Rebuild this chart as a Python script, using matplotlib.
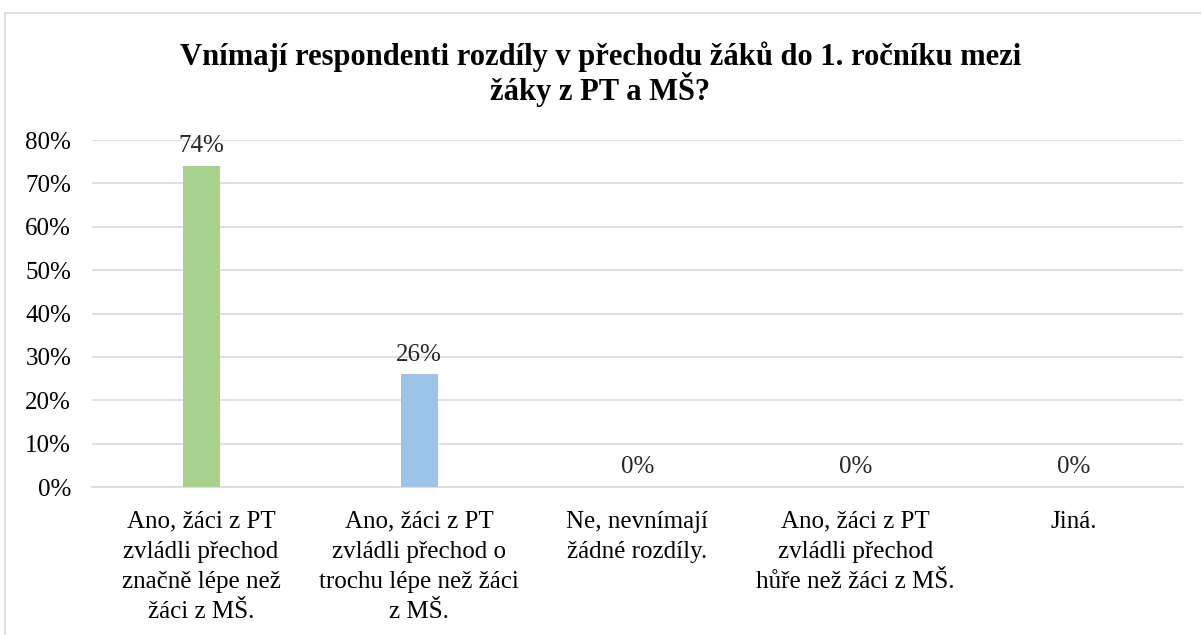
import matplotlib
matplotlib.use("Agg")
import matplotlib.pyplot as plt
from matplotlib.patches import Rectangle
from matplotlib.ticker import MultipleLocator, FuncFormatter

categories = [
    "Ano, žáci z PT\nzvládli přechod\nznačně lépe než\nžáci z MŠ.",
    "Ano, žáci z PT\nzvládli přechod o\ntrochu lépe než žáci\nz MŠ.",
    "Ne, nevnímají\nžádné rozdíly.",
    "Ano, žáci z PT\nzvládli přechod\nhůře než žáci z MŠ.",
    "Jiná.",
]
values = [74, 26, 0, 0, 0]
colors = ["#a9d18e", "#9dc3e6", "#f4b183", "#ffd966", "#c9c9c9"]
title = "Vnímají respondenti rozdíly v přechodu žáků do 1. ročníku mezi\nžáky z PT a MŠ?"

plt.rcParams['font.family'] = ['Liberation Serif', 'DejaVu Serif']

W, H = 1201, 635
fig = plt.figure(figsize=(W / 100, H / 100), dpi=100)
fig.patch.set_facecolor("white")

# chart frame
fig.patches.append(Rectangle((5 / W, -0.1), 1.2, (H - 13) / H + 0.1,
                             transform=fig.transFigure, fill=False,
                             edgecolor="#d9d9d9", linewidth=1.2))

left, right = 92 / W, 1183 / W
bottom, top = 1 - 487 / H, 1 - 140 / H
ax = fig.add_axes([left, bottom, right - left, top - bottom])

x = range(len(categories))
ax.bar(x, values, width=0.17, color=colors, zorder=3)
for xi, v in zip(x, values):
    ax.text(xi, v + 2.0, f"{v}%", ha="center", va="bottom", fontsize=18, color="#262626")

ax.set_xlim(-0.5, len(categories) - 0.5)
ax.set_ylim(0, 80)
ax.yaxis.set_major_locator(MultipleLocator(10))
ax.yaxis.set_major_formatter(FuncFormatter(lambda v, p: f"{int(v)}%"))
ax.grid(axis="y", color="#d9d9d9", linewidth=1.2, zorder=0)
ax.set_axisbelow(True)
for s in ["top", "right", "left"]:
    ax.spines[s].set_visible(False)
ax.spines["bottom"].set_color("#d9d9d9")
ax.spines["bottom"].set_linewidth(1.2)
ax.tick_params(axis="both", length=0, labelsize=18, colors="#000000")
ax.tick_params(axis="y", pad=15)
ax.tick_params(axis="x", pad=17)
ax.set_xticks(list(x))
ax.set_xticklabels(categories, fontsize=18, linespacing=1.48)

fig.text(0.5, 1 - 74 / H, title, ha="center", va="center", fontsize=22,
         fontweight="bold", linespacing=1.0)

fig.savefig("out.png", dpi=100)
